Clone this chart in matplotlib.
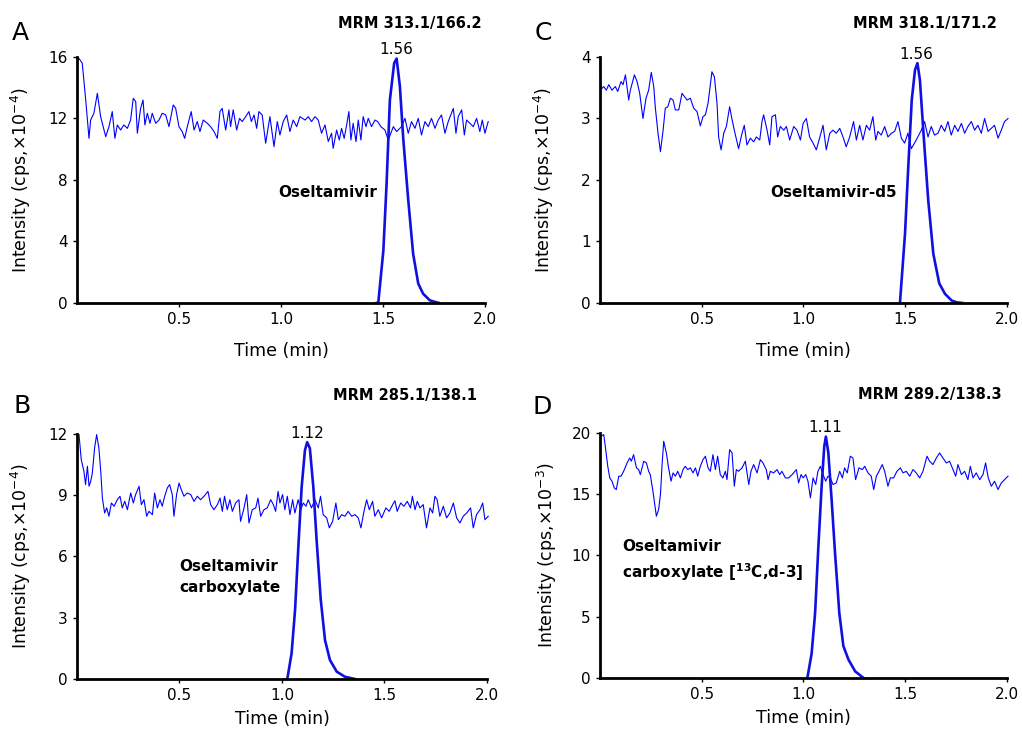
import matplotlib
matplotlib.use("Agg")
import matplotlib.pyplot as plt

# ---- Panel A: oseltamivir (MRM 313.1/166.2) ----
a_base_t = [0.000, 0.010, 0.026, 0.043, 0.059, 0.067, 0.083, 0.100, 0.116, 0.141, 0.157, 0.173, 0.186, 0.198,
            0.214, 0.230, 0.247, 0.263, 0.276, 0.288, 0.296, 0.312, 0.324, 0.333, 0.345, 0.358, 0.369, 0.386,
            0.402, 0.418, 0.435, 0.451, 0.472, 0.484, 0.500, 0.516, 0.528, 0.541, 0.560, 0.574, 0.590, 0.603,
            0.619, 0.639, 0.655, 0.672, 0.688, 0.701, 0.712, 0.729, 0.745, 0.753, 0.766, 0.783, 0.797, 0.810,
            0.827, 0.843, 0.855, 0.868, 0.881, 0.892, 0.908, 0.925, 0.946, 0.966, 0.982, 0.995, 1.011, 1.028,
            1.044, 1.060, 1.077, 1.093, 1.118, 1.134, 1.150, 1.167, 1.183, 1.199, 1.216, 1.232, 1.248, 1.256,
            1.273, 1.286, 1.297, 1.310, 1.322, 1.333, 1.343, 1.354, 1.368, 1.379, 1.392, 1.403, 1.417, 1.428,
            1.444, 1.461, 1.474, 1.490, 1.510, 1.526, 1.551, 1.567, 1.591, 1.608, 1.624, 1.640, 1.657, 1.673,
            1.689, 1.706, 1.722, 1.738, 1.755, 1.771, 1.787, 1.804, 1.820, 1.845, 1.858, 1.869, 1.886, 1.899,
            1.910, 1.926, 1.943, 1.959, 1.975, 1.987, 2.000, 2.016]
a_base_y = [15.9, 15.91, 15.59, 13.20, 10.71, 11.90, 12.34, 13.64, 12.12, 10.82, 11.47, 12.45, 10.71, 11.58,
            11.25, 11.58, 11.36, 11.90, 13.31, 13.10, 11.04, 12.66, 13.20, 11.58, 12.34, 11.69, 12.34, 11.69,
            11.90, 12.34, 12.23, 11.47, 12.88, 12.66, 11.47, 11.15, 10.71, 11.47, 12.45, 11.25, 11.80, 11.15,
            11.90, 11.69, 11.47, 11.15, 10.71, 12.45, 12.66, 11.25, 12.56, 11.47, 12.56, 11.25, 12.01, 11.80,
            12.12, 12.45, 11.80, 12.23, 11.36, 12.45, 12.23, 10.39, 12.12, 10.17, 11.80, 10.93, 11.80, 12.23,
            11.15, 11.90, 11.47, 12.12, 11.90, 12.12, 11.80, 12.12, 11.90, 11.04, 11.58, 10.50, 11.04, 10.06,
            11.25, 10.60, 11.36, 10.71, 11.58, 12.45, 10.60, 11.69, 10.50, 11.90, 10.60, 12.12, 11.47, 12.01,
            11.47, 11.90, 11.80, 11.47, 11.25, 10.60, 11.47, 11.15, 11.47, 12.01, 11.04, 11.80, 11.36, 12.01,
            10.93, 11.80, 11.47, 12.01, 11.36, 11.90, 12.23, 11.04, 11.80, 12.66, 11.04, 12.12, 12.56, 10.93,
            11.90, 11.69, 11.47, 12.01, 11.15, 11.90, 11.04, 11.80]
a_peak_t = [1.470, 1.477, 1.502, 1.518, 1.534, 1.555, 1.567, 1.583, 1.600, 1.624, 1.648, 1.673, 1.697, 1.730, 1.763, 1.775]
a_peak_y = [0.0, 0.0, 3.4, 7.8, 13.2, 15.6, 15.9, 14.1, 10.6, 6.7, 3.2, 1.26, 0.6, 0.17, 0.04, 0.0]

# ---- Panel B: oseltamivir carboxylate (MRM 285.1/138.1) ----
b_base_t = [0.000, 0.010, 0.021, 0.034, 0.042, 0.051, 0.059, 0.067, 0.075, 0.086, 0.096, 0.107, 0.116, 0.124,
            0.135, 0.145, 0.156, 0.168, 0.181, 0.197, 0.210, 0.221, 0.233, 0.246, 0.262, 0.275, 0.286, 0.303,
            0.314, 0.327, 0.340, 0.351, 0.368, 0.379, 0.392, 0.405, 0.416, 0.428, 0.441, 0.452, 0.465, 0.473,
            0.486, 0.498, 0.509, 0.522, 0.538, 0.555, 0.571, 0.587, 0.603, 0.620, 0.639, 0.652, 0.668, 0.685,
            0.698, 0.709, 0.720, 0.733, 0.746, 0.758, 0.774, 0.790, 0.798, 0.815, 0.828, 0.839, 0.855, 0.872,
            0.883, 0.896, 0.912, 0.928, 0.945, 0.958, 0.969, 0.981, 0.990, 1.003, 1.014, 1.026, 1.039, 1.052,
            1.063, 1.079, 1.091, 1.104, 1.117, 1.128, 1.144, 1.161, 1.177, 1.188, 1.201, 1.218, 1.231, 1.247,
            1.263, 1.275, 1.291, 1.307, 1.323, 1.340, 1.356, 1.372, 1.385, 1.400, 1.413, 1.426, 1.442, 1.453,
            1.470, 1.486, 1.507, 1.523, 1.540, 1.551, 1.562, 1.579, 1.595, 1.611, 1.627, 1.636, 1.649, 1.660,
            1.673, 1.689, 1.705, 1.722, 1.735, 1.746, 1.757, 1.770, 1.787, 1.803, 1.819, 1.836, 1.852, 1.868,
            1.884, 1.901, 1.920, 1.933, 1.949, 1.966, 1.979, 1.990, 2.006]
b_base_y = [12.0, 11.97, 10.74, 10.17, 9.52, 10.42, 9.44, 9.68, 10.09, 11.31, 11.97, 11.31, 10.17, 8.86,
            8.13, 8.38, 7.97, 8.62, 8.46, 8.78, 8.95, 8.38, 8.70, 8.29, 9.11, 8.62, 9.03, 9.44,
            8.54, 8.78, 7.97, 8.21, 8.05, 9.11, 8.38, 8.78, 8.46, 8.95, 9.36, 9.52, 9.03, 7.97,
            9.03, 9.60, 9.27, 8.95, 9.11, 9.03, 8.70, 8.95, 8.78, 8.95, 9.19, 8.54, 8.29, 8.54,
            8.86, 8.21, 8.95, 8.29, 8.78, 8.21, 8.62, 8.78, 7.72, 8.38, 9.03, 7.64, 8.29, 8.38,
            8.86, 7.97, 8.29, 8.38, 8.78, 8.54, 8.21, 9.19, 8.62, 9.03, 8.29, 8.95, 8.05, 8.78,
            8.13, 8.78, 8.29, 8.62, 8.46, 8.78, 8.38, 8.78, 8.38, 8.95, 8.05, 7.89, 7.40, 7.72,
            8.62, 7.80, 8.05, 7.97, 8.21, 7.97, 8.05, 7.89, 7.40, 8.21, 8.78, 8.29, 8.70, 7.97,
            8.29, 7.89, 8.38, 8.21, 8.54, 8.73, 8.21, 8.62, 8.46, 8.70, 8.38, 8.95, 8.29, 8.70,
            8.38, 8.54, 7.40, 8.38, 8.13, 8.95, 8.78, 7.97, 8.46, 7.89, 8.13, 8.62, 7.89, 7.64,
            7.97, 8.13, 8.38, 7.40, 8.05, 8.29, 8.62, 7.80, 7.97]
b_peak_t = [1.026, 1.047, 1.064, 1.080, 1.096, 1.112, 1.123, 1.136, 1.153, 1.169, 1.189, 1.210, 1.234, 1.267, 1.307, 1.356]
b_peak_y = [0.0, 1.26, 3.4, 6.5, 9.4, 11.2, 11.6, 11.3, 9.4, 6.8, 3.9, 1.9, 0.93, 0.36, 0.11, 0.0]

# ---- Panel C: oseltamivir-d5 (MRM 318.1/171.2) ----
c_base_t = [0.000, 0.004, 0.018, 0.031, 0.043, 0.059, 0.075, 0.087, 0.103, 0.113, 0.125, 0.141, 0.149, 0.169,
            0.182, 0.195, 0.211, 0.226, 0.239, 0.252, 0.264, 0.272, 0.285, 0.297, 0.310, 0.321, 0.333, 0.346,
            0.359, 0.370, 0.387, 0.403, 0.414, 0.428, 0.444, 0.460, 0.477, 0.493, 0.506, 0.518, 0.531, 0.550,
            0.562, 0.575, 0.583, 0.595, 0.608, 0.621, 0.637, 0.649, 0.660, 0.681, 0.698, 0.709, 0.722, 0.739,
            0.755, 0.768, 0.785, 0.796, 0.804, 0.821, 0.834, 0.845, 0.862, 0.873, 0.886, 0.903, 0.916, 0.932,
            0.952, 0.968, 0.985, 0.998, 1.014, 1.030, 1.047, 1.063, 1.079, 1.096, 1.112, 1.129, 1.145, 1.161,
            1.178, 1.194, 1.210, 1.227, 1.246, 1.260, 1.276, 1.292, 1.309, 1.325, 1.341, 1.355, 1.366, 1.382,
            1.399, 1.415, 1.432, 1.448, 1.464, 1.481, 1.497, 1.513, 1.530, 1.554, 1.579, 1.595, 1.612, 1.628,
            1.644, 1.661, 1.677, 1.694, 1.710, 1.726, 1.743, 1.759, 1.776, 1.792, 1.808, 1.825, 1.841, 1.857,
            1.874, 1.890, 1.907, 1.923, 1.939, 1.956, 1.972, 1.988, 2.005]
c_base_y = [4.00, 3.47, 3.52, 3.46, 3.55, 3.46, 3.52, 3.44, 3.60, 3.55, 3.71, 3.30, 3.46, 3.71,
            3.60, 3.41, 3.00, 3.33, 3.46, 3.75, 3.52, 3.17, 2.76, 2.46, 2.81, 3.17, 3.19, 3.33,
            3.30, 3.14, 3.14, 3.41, 3.36, 3.30, 3.33, 3.17, 3.11, 2.88, 3.03, 3.06, 3.25, 3.76,
            3.68, 3.25, 2.70, 2.49, 2.76, 2.87, 3.19, 2.98, 2.81, 2.51, 2.76, 2.89, 2.57, 2.68,
            2.62, 2.70, 2.65, 2.95, 3.06, 2.81, 2.57, 3.03, 3.06, 2.70, 2.87, 2.81, 2.87, 2.65,
            2.87, 2.81, 2.65, 2.92, 3.00, 2.70, 2.60, 2.49, 2.68, 2.89, 2.49, 2.76, 2.81, 2.76,
            2.84, 2.70, 2.54, 2.70, 2.95, 2.65, 2.89, 2.65, 2.89, 2.81, 3.03, 2.65, 2.79, 2.73,
            2.87, 2.70, 2.76, 2.79, 2.95, 2.68, 2.60, 2.76, 2.51, 2.65, 2.81, 2.95, 2.70, 2.87,
            2.73, 2.76, 2.89, 2.79, 2.95, 2.73, 2.89, 2.79, 2.92, 2.76, 2.87, 2.95, 2.81, 2.89,
            2.76, 3.00, 2.79, 2.84, 2.89, 2.68, 2.81, 2.95, 3.00]
c_peak_t = [1.474, 1.499, 1.515, 1.532, 1.548, 1.560, 1.572, 1.592, 1.613, 1.638, 1.667, 1.695, 1.728, 1.753, 1.780]
c_peak_y = [0.0, 1.13, 2.22, 3.30, 3.79, 3.90, 3.63, 2.65, 1.67, 0.80, 0.32, 0.15, 0.04, 0.01, 0.0]

# ---- Panel D: oseltamivir carboxylate [13C,d-3] (MRM 289.2/138.3) ----
d_base_t = [0.000, 0.005, 0.018, 0.026, 0.038, 0.048, 0.059, 0.070, 0.080, 0.092, 0.103, 0.116, 0.133, 0.146,
            0.154, 0.165, 0.179, 0.190, 0.198, 0.215, 0.228, 0.239, 0.247, 0.260, 0.269, 0.277, 0.288, 0.297,
            0.305, 0.313, 0.326, 0.337, 0.349, 0.359, 0.370, 0.382, 0.395, 0.408, 0.419, 0.431, 0.444, 0.457,
            0.469, 0.480, 0.493, 0.506, 0.518, 0.531, 0.542, 0.555, 0.567, 0.578, 0.591, 0.604, 0.616, 0.624,
            0.637, 0.649, 0.660, 0.670, 0.681, 0.698, 0.714, 0.731, 0.742, 0.755, 0.772, 0.788, 0.801, 0.817,
            0.826, 0.837, 0.853, 0.870, 0.883, 0.894, 0.911, 0.927, 0.944, 0.965, 0.976, 0.988, 0.998, 1.011,
            1.022, 1.034, 1.047, 1.060, 1.071, 1.083, 1.096, 1.109, 1.120, 1.132, 1.145, 1.161, 1.178, 1.191,
            1.202, 1.215, 1.230, 1.243, 1.256, 1.273, 1.289, 1.301, 1.317, 1.333, 1.345, 1.358, 1.371, 1.387,
            1.399, 1.415, 1.427, 1.443, 1.459, 1.476, 1.489, 1.505, 1.522, 1.538, 1.554, 1.571, 1.587, 1.607,
            1.620, 1.636, 1.653, 1.669, 1.685, 1.702, 1.718, 1.735, 1.748, 1.759, 1.776, 1.792, 1.808, 1.820,
            1.833, 1.849, 1.866, 1.882, 1.895, 1.908, 1.923, 1.939, 1.956, 1.972, 1.988, 2.005]
d_base_y = [19.60, 19.73, 19.87, 18.91, 17.28, 16.33, 16.06, 15.51, 15.38, 16.47, 16.47, 16.87, 17.55, 17.96,
            17.69, 18.23, 17.15, 17.01, 16.60, 17.69, 17.55, 16.87, 16.60, 15.24, 14.15, 13.20, 13.75, 14.97,
            17.42, 19.32, 18.37, 17.15, 16.06, 16.74, 16.47, 16.87, 16.33, 17.01, 17.28, 17.01, 17.15, 16.74,
            17.15, 16.47, 17.28, 17.82, 18.10, 17.15, 16.87, 18.23, 17.01, 18.10, 16.60, 16.33, 16.87, 16.19,
            18.64, 18.37, 15.65, 17.01, 16.87, 17.15, 17.69, 15.79, 16.87, 17.42, 16.74, 17.82, 17.55, 17.01,
            16.19, 16.87, 16.74, 17.01, 16.60, 16.87, 16.33, 16.33, 16.60, 17.01, 15.92, 16.60, 16.33, 16.60,
            16.06, 14.70, 16.33, 15.79, 16.87, 17.28, 16.60, 16.06, 16.47, 16.33, 15.79, 15.92, 16.87, 16.33,
            17.15, 16.74, 18.10, 17.96, 16.19, 17.15, 17.01, 17.28, 16.74, 16.47, 15.38, 16.47, 16.87, 17.42,
            16.87, 15.65, 16.33, 16.33, 16.87, 17.15, 16.74, 16.87, 16.47, 17.01, 16.74, 16.33, 16.87, 18.10,
            17.69, 17.42, 17.96, 18.37, 17.96, 17.55, 17.69, 17.01, 16.47, 17.42, 16.60, 16.87, 16.19, 17.28,
            16.33, 16.74, 16.19, 16.60, 17.55, 16.33, 15.65, 16.06, 15.38, 15.92, 16.19, 16.47]
d_peak_t = [1.019, 1.040, 1.057, 1.073, 1.089, 1.102, 1.110, 1.122, 1.138, 1.155, 1.176, 1.196, 1.221, 1.254, 1.295]
d_peak_y = [0.0, 2.0, 5.3, 10.7, 15.6, 18.9, 19.7, 18.4, 14.6, 10.2, 5.3, 2.6, 1.5, 0.54, 0.0]

x_ticks = [0.5, 1.0, 1.5, 2.0]

panels = [
    dict(rect=[0.0753, 0.5844, 0.3992, 0.3374], bt=a_base_t, by=a_base_y, pt=a_peak_t, py=a_peak_y,
         yticks=[0, 4, 8, 12, 16], ylabel='Intensity (cps,×10$^{-4}$)', rt='1.56', rt_x=1.566,
         name='Oseltamivir', name_xy=(1.23, 7.2), name_ha='center',
         letter='A', letter_xy=(0.0196, 0.9547), mrm='MRM 313.1/166.2', mrm_xy=(0.4012, 0.9671),
         ylab_x=-0.107, xlab_y=-0.16),
    dict(rect=[0.5871, 0.5844, 0.3982, 0.3374], bt=c_base_t, by=c_base_y, pt=c_peak_t, py=c_peak_y,
         yticks=[0, 1, 2, 3, 4], ylabel='Intensity (cps,×10$^{-4}$)', rt='1.56', rt_x=1.556,
         name='Oseltamivir-d5', name_xy=(1.15, 1.80), name_ha='center',
         letter='C', letter_xy=(0.5313, 0.9547), mrm='MRM 318.1/171.2', mrm_xy=(0.905, 0.9671),
         ylab_x=-0.108, xlab_y=-0.16),
    dict(rect=[0.0753, 0.0686, 0.4012, 0.3361], bt=b_base_t, by=b_base_y, pt=b_peak_t, py=b_peak_y,
         yticks=[0, 3, 6, 9, 12], ylabel='Intensity (cps,×10$^{-4}$)', rt='1.12', rt_x=1.122,
         name='Oseltamivir\ncarboxylate', name_xy=(0.50, 5.0), name_ha='left',
         letter='B', letter_xy=(0.0215, 0.4431), mrm='MRM 285.1/138.1', mrm_xy=(0.3963, 0.4568),
         ylab_x=-0.107, xlab_y=-0.125),
    dict(rect=[0.5871, 0.0700, 0.3982, 0.3361], bt=d_base_t, by=d_base_y, pt=d_peak_t, py=d_peak_y,
         yticks=[0, 5, 10, 15, 20], ylabel='Intensity (cps,×10$^{-3}$)', rt='1.11', rt_x=1.106,
         name='Oseltamivir\ncarboxylate [$\\mathbf{^{13}}$C,d-3]', name_xy=(0.108, 9.55), name_ha='left',
         letter='D', letter_xy=(0.5303, 0.4417), mrm='MRM 289.2/138.3', mrm_xy=(0.91, 0.4595),
         ylab_x=-0.100, xlab_y=-0.125),
]

fig = plt.figure(figsize=(10.22, 7.29), dpi=100)

for p in panels:
    ax = fig.add_axes(p['rect'])
    # noisy trace (thin) and the analyte peak (thick)
    ax.plot(p['bt'], p['by'], color='#0000ff', lw=0.8, clip_on=False)
    ax.plot(p['pt'], p['py'], color='#1010e0', lw=1.9, clip_on=False)

    top = p['yticks'][-1]
    ax.set_xlim(0, 2.0)
    ax.set_ylim(0, top)
    ax.set_xticks(x_ticks)
    ax.set_xticklabels(['0.5', '1.0', '1.5', '2.0'])
    ax.set_yticks(p['yticks'])

    for side in ['top', 'right']:
        ax.spines[side].set_visible(False)
    for side in ['left', 'bottom']:
        ax.spines[side].set_linewidth(2.0)
    ax.tick_params(axis='both', labelsize=11, length=3, width=1)

    ax.set_xlabel('Time (min)', fontsize=12.5)
    ax.set_ylabel(p['ylabel'], fontsize=12.5)
    ax.yaxis.set_label_coords(p['ylab_x'], 0.5)
    ax.xaxis.set_label_coords(0.5, p['xlab_y'])

    # retention time above the peak
    ax.text(p['rt_x'], max(p['py']) + top * 0.005, p['rt'], ha='center', va='bottom', fontsize=11)
    # compound name
    ax.text(p['name_xy'][0], p['name_xy'][1], p['name'], ha=p['name_ha'], va='center',
            fontsize=11, fontweight='bold', linespacing=1.45)

    fig.text(p['letter_xy'][0], p['letter_xy'][1], p['letter'], ha='center', va='center', fontsize=18)
    fig.text(p['mrm_xy'][0], p['mrm_xy'][1], p['mrm'], ha='center', va='center', fontsize=10.5,
             fontweight='bold')

fig.savefig('out.png', dpi=100)
